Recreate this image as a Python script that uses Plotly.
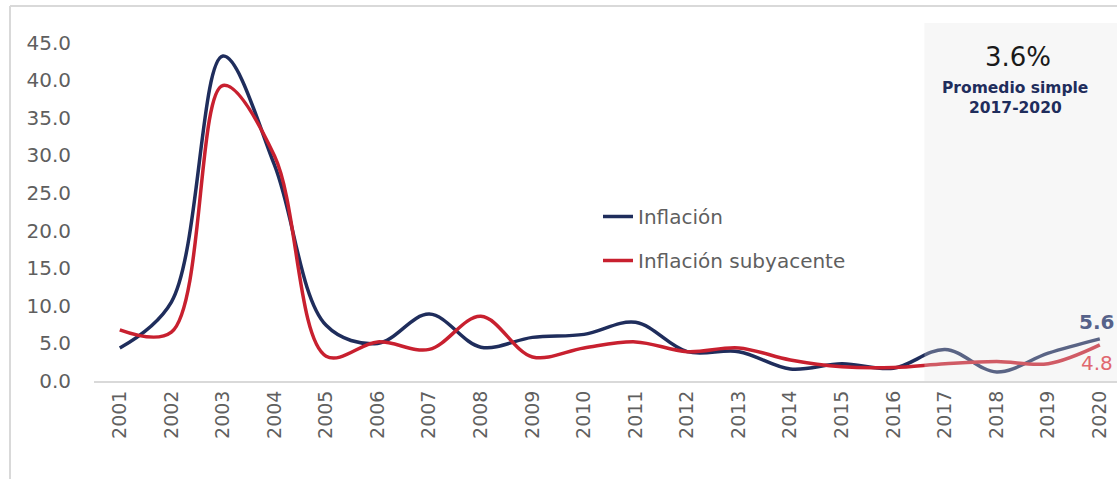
import plotly.graph_objects as go

# data
years = list(range(2001, 2021))
inflacion = [4.4, 10.5, 43.2, 28.7, 7.4, 5.0, 8.9, 4.5, 5.8, 6.2,
             7.8, 3.9, 3.9, 1.6, 2.3, 1.7, 4.2, 1.2, 3.7, 5.6]
subyacente = [6.8, 6.5, 39.3, 29.9, 3.3, 5.2, 4.2, 8.6, 3.2, 4.4,
              5.2, 3.9, 4.4, 2.8, 1.9, 1.8, 2.3, 2.6, 2.3, 4.8]
y_ticks = [0, 5, 10, 15, 20, 25, 30, 35, 40, 45]
promedio_txt = "3.6%"
periodo_txt = "2017-2020"

NAVY = '#1f2d5c'
RED = '#c8202f'
GRAY_TXT = '#5f5f5f'
FONT = 'DejaVu Sans'

W, H = 1117, 479
L, R, T, B = 94, 0, 23, 98
pw, ph = W - L - R, H - T - B


def px_x(p):
    return (p - L) / pw


def px_y(p):
    return (H - B - p) / ph


fig = go.Figure()

fig.add_trace(go.Scatter(
    x=years, y=inflacion, name='Inflación', legendgroup='a',
    mode='lines', line=dict(color=NAVY, width=3.5, shape='spline', smoothing=1.0),
    hoverinfo='x+y'
))
fig.add_trace(go.Scatter(
    x=years, y=subyacente, name='Inflación subyacente', legendgroup='b',
    mode='lines', line=dict(color=RED, width=3.5, shape='spline', smoothing=1.0),
    hoverinfo='x+y'
))

shapes = [
    # shaded 2017-2020 band, drawn over the lines so they look faded
    dict(type='rect', xref='x', yref='paper', x0=2016.6, x1=2021, y0=0, y1=1,
         fillcolor='rgba(228,228,228,0.3)', line_width=0, layer='above'),
    # frame pieces
    dict(type='line', xref='paper', yref='paper', x0=px_x(10), x1=px_x(10),
         y0=px_y(6), y1=px_y(H + 5), line=dict(color='#d9d9d9', width=2)),
    dict(type='line', xref='paper', yref='paper', x0=px_x(10), x1=px_x(W + 5),
         y0=px_y(6), y1=px_y(6), line=dict(color='#d9d9d9', width=2)),
]

annotations = [
    dict(x=px_x(1018), y=px_y(57), xref='paper', yref='paper', text=promedio_txt,
         xanchor='center', yanchor='middle', showarrow=False,
         font=dict(family=FONT, size=26, color='#1a1a1a')),
    dict(x=px_x(1015), y=px_y(88), xref='paper', yref='paper', text='<b>Promedio simple</b>',
         xanchor='center', yanchor='middle', showarrow=False,
         font=dict(family=FONT, size=15.5, color=NAVY)),
    dict(x=px_x(1015), y=px_y(108), xref='paper', yref='paper', text='<b>' + periodo_txt + '</b>',
         xanchor='center', yanchor='middle', showarrow=False,
         font=dict(family=FONT, size=15.5, color=NAVY)),
    dict(x=years[-1], y=inflacion[-1], text='<b>%.1f</b>' % inflacion[-1], showarrow=False,
         xanchor='center', xshift=-3, yshift=17, font=dict(family=FONT, size=20, color='#56628a')),
    dict(x=years[-1], y=subyacente[-1], text='%.1f' % subyacente[-1], showarrow=False,
         xanchor='center', xshift=-3, yshift=-18,
         font=dict(family=FONT, size=20, color='#e0686f')),
]

fig.update_layout(
    width=W, height=H,
    margin=dict(l=L, r=R, t=T, b=B),
    paper_bgcolor='white', plot_bgcolor='white',
    font=dict(family=FONT, color=GRAY_TXT),
    showlegend=True,
    legend=dict(x=px_x(598), y=px_y(197), xanchor='left', yanchor='top',
                font=dict(family=FONT, size=20, color=GRAY_TXT),
                tracegroupgap=15, bgcolor='rgba(0,0,0,0)'),
    xaxis=dict(range=[2000.5, 2000.5 + pw / 51.58], tickmode='array', tickvals=years,
               ticktext=[str(y) for y in years], tickangle=-90,
               tickfont=dict(family=FONT, size=19, color=GRAY_TXT),
               showgrid=False, zeroline=False, showline=True,
               linecolor='#d9d9d9', linewidth=2, ticks=''),
    yaxis=dict(range=[0, 47.6], tickmode='array', tickvals=y_ticks,
               tickformat='.1f', tickfont=dict(family=FONT, size=20, color=GRAY_TXT),
               showgrid=False, zeroline=False, showline=False, ticklabelstandoff=22),
    shapes=shapes,
    annotations=annotations,
)

fig.write_html("out.html", config={'displayModeBar': False},
               post_script="document.body.style.margin='0';document.body.style.overflow='hidden';")
